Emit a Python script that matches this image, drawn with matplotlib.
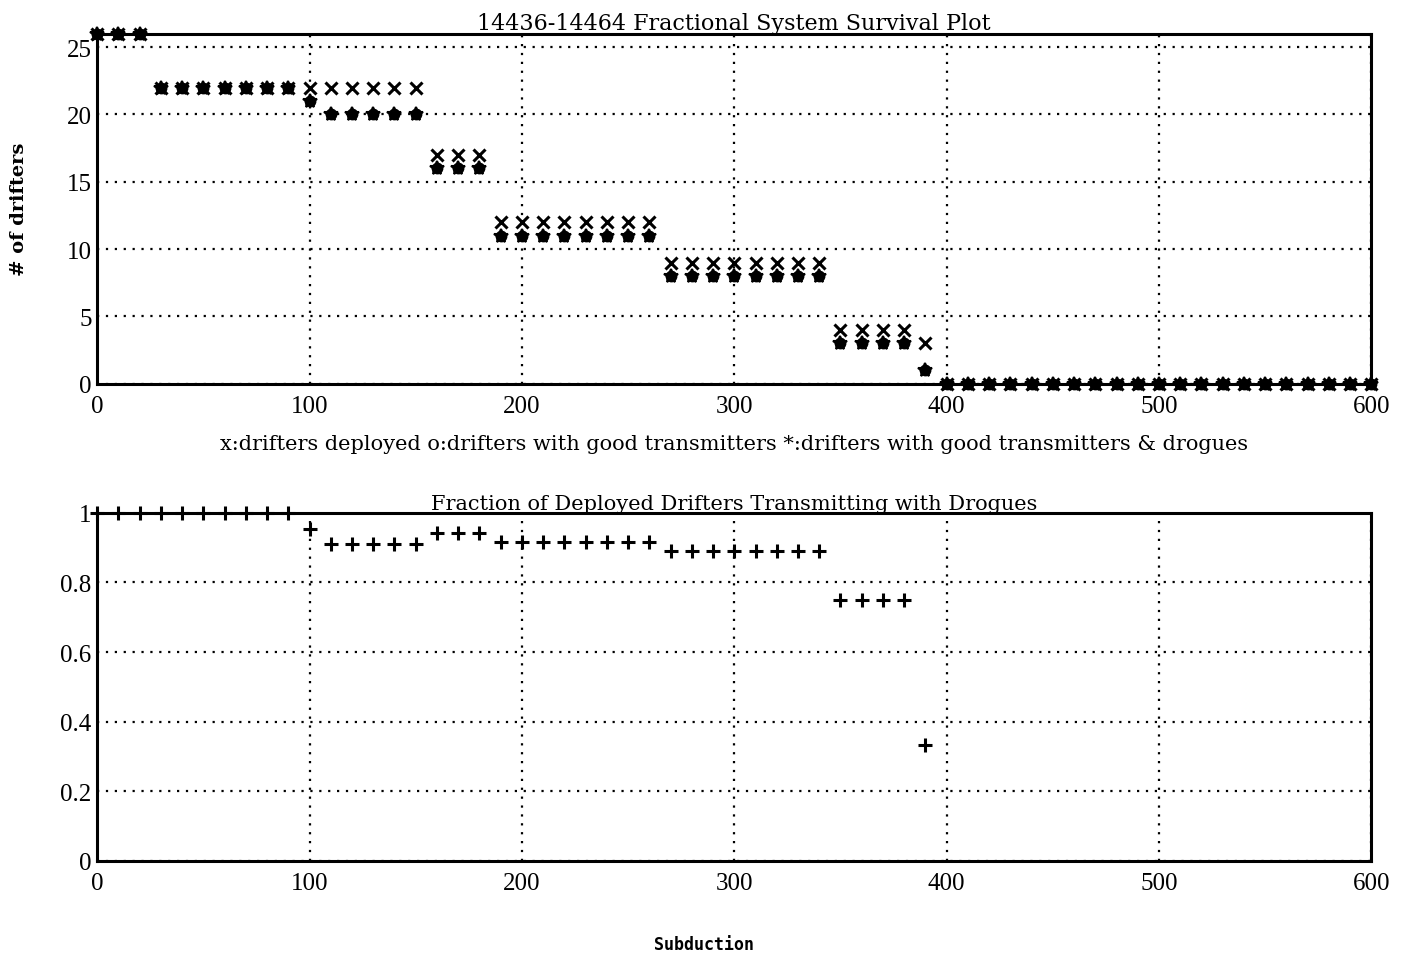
import numpy as np
import matplotlib.pyplot as plt

plt.rcParams['font.family'] = ['Liberation Serif', 'DejaVu Serif']

# subduction days (every 10)
days = np.arange(0, 610, 10)
deployed = [26]*3 + [22]*7 + [22]*6 + [17]*3 + [12]*8 + [9]*8 + [4]*4 + [3] + [0]*21
transmit = [26]*3 + [22]*7 + [21] + [20]*5 + [16]*3 + [11]*8 + [8]*8 + [3]*4 + [1] + [0]*21
drogues = [26]*3 + [22]*7 + [21] + [20]*5 + [16]*3 + [11]*8 + [8]*8 + [3]*4 + [1] + [0]*21

deployed = np.array(deployed, dtype=float)
drogues = np.array(drogues, dtype=float)
with np.errstate(invalid='ignore', divide='ignore'):
    frac = np.where(deployed > 0, drogues / deployed, np.nan)

wide = 'DejaVu Serif'

fig = plt.figure(figsize=(14.08, 9.62), dpi=100)
ax1 = fig.add_axes([0.069, 0.600, 0.905, 0.364])
ax2 = fig.add_axes([0.069, 0.104, 0.905, 0.362])

ax1.plot(days, deployed, 'x', color='k', ms=8, mew=2.2, clip_on=False)
ax1.plot(days, transmit, 'o', color='k', ms=7, mew=1.5, clip_on=False)
ax1.plot(days, drogues, '*', color='k', ms=10, mew=1.5, clip_on=False)
ax1.set_xlim(0, 600)
ax1.set_ylim(0, 26)
ax1.set_yticks([0, 5, 10, 15, 20, 25])
ax1.set_title('14436-14464 Fractional System Survival Plot', family=wide, fontsize=16, pad=3)
ax1.set_ylabel('# of drifters', family=wide, fontsize=14, fontweight='bold', labelpad=28)
ax1.set_xlabel('x:drifters deployed o:drifters with good transmitters *:drifters with good transmitters & drogues',
               family=wide, fontsize=15, labelpad=12)

ax2.plot(days, frac, '+', color='k', ms=10, mew=2.2, clip_on=False)
ax2.set_xlim(0, 600)
ax2.set_ylim(0, 1)
ax2.set_yticks([0, 0.2, 0.4, 0.6, 0.8, 1])
ax2.set_yticklabels(['0', '0.2', '0.4', '0.6', '0.8', '1'])
ax2.set_title('Fraction of Deployed Drifters Transmitting with Drogues', family=wide, fontsize=15, pad=3)

for ax in (ax1, ax2):
    ax.set_xticks([0, 100, 200, 300, 400, 500, 600])
    ax.grid(True, linestyle=(0, (1, 3)), color='k', linewidth=1.6)
    ax.tick_params(length=0, labelsize=18, pad=4)
    ax.tick_params(axis='x', pad=8)
    for s in ax.spines.values():
        s.set_linewidth(2.2)

fig.text(0.5, 0.008, 'Subduction', family='DejaVu Sans Mono', fontweight='bold',
         fontsize=12, ha='center', va='bottom')

fig.savefig('out.png', dpi=100)
